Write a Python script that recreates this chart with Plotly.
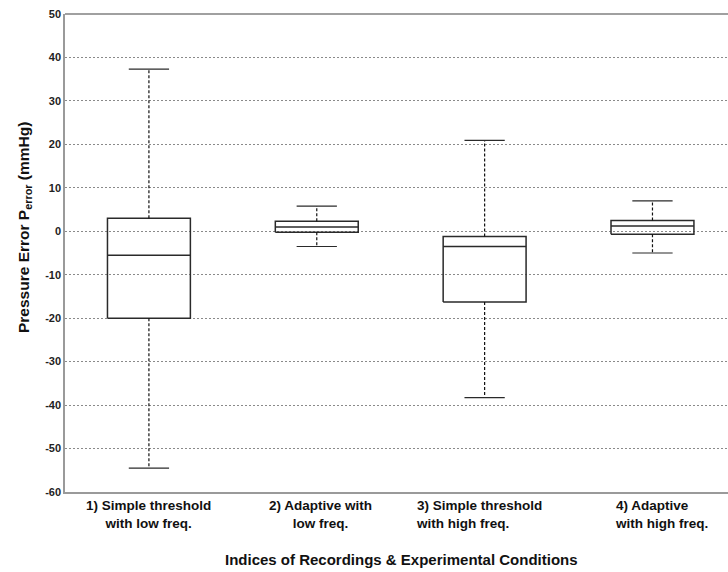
import plotly.graph_objects as go

categories = ["1) Simple threshold<br>with low freq.",
              "2) Adaptive with<br>low freq.",
              "3) Simple threshold<br>with high freq.",
              "4) Adaptive<br>with high freq."]
upper_whisker = [37.3, 5.8, 20.9, 7.0]
q3 = [3.0, 2.3, -1.2, 2.5]
median = [-5.5, 1.0, -3.5, 1.2]
q1 = [-20.0, -0.2, -16.3, -0.7]
lower_whisker = [-54.5, -3.5, -38.3, -5.0]
y_ticks = list(range(-60, 51, 10))

FONT = "Liberation Sans, Arial, sans-serif"
BW = 0.247   # box half width (axis units)
CW = 0.12    # cap half width
BOX_COLOR = "#2a2a2a"

fig = go.Figure()
for i in range(len(categories)):
    fig.add_trace(go.Scatter(
        x=[i - BW, i + BW, i + BW, i - BW, i - BW],
        y=[q1[i], q1[i], q3[i], q3[i], q1[i]],
        mode="lines", line=dict(color=BOX_COLOR, width=1.5),
        hoverinfo="skip", showlegend=False))
    fig.add_trace(go.Scatter(
        x=[i - BW, i + BW], y=[median[i], median[i]],
        mode="lines", line=dict(color=BOX_COLOR, width=1.5),
        hoverinfo="skip", showlegend=False))
    fig.add_trace(go.Scatter(
        x=[i, i, None, i, i],
        y=[q3[i], upper_whisker[i], None, q1[i], lower_whisker[i]],
        mode="lines", line=dict(color="#111111", width=1.2, dash="3px,2px"),
        hoverinfo="skip", showlegend=False))
    fig.add_trace(go.Scatter(
        x=[i - CW, i + CW, None, i - CW, i + CW],
        y=[upper_whisker[i], upper_whisker[i], None, lower_whisker[i], lower_whisker[i]],
        mode="lines", line=dict(color=BOX_COLOR, width=1.2),
        hoverinfo="skip", showlegend=False))

aligns = ["center", "center", "left", "left"]
xshift = [0, 4, -71, -39]
for i, lab in enumerate(categories):
    fig.add_annotation(
        x=i, xref="x", y=0, yref="paper", yanchor="top", yshift=-4,
        xanchor="center" if aligns[i] == "center" else "left",
        xshift=xshift[i], align=aligns[i], showarrow=False,
        text="<b>" + lab + "</b>",
        font=dict(family=FONT, size=13.5, color="#111111"))

# axis titles
fig.add_annotation(
    x=0.5, xref="paper", y=0, yref="paper", yanchor="middle", yshift=-67,
    xanchor="center", xshift=5, showarrow=False,
    text="<b>Indices of Recordings & Experimental Conditions</b>",
    font=dict(family=FONT, size=15, color="#111111"))
fig.add_annotation(
    x=0, xref="paper", y=(492 - 228) / 478, yref="paper", yanchor="middle",
    xanchor="center", xshift=-41, textangle=-90, showarrow=False,
    text="<b>Pressure Error P<sub>error</sub> (mmHg)</b>",
    font=dict(family=FONT, size=15.5, color="#111111"))

fig.update_layout(
    width=728, height=572,
    margin=dict(l=65, r=0, t=14, b=80, autoexpand=False),
    paper_bgcolor="white", plot_bgcolor="white",
    font=dict(family=FONT, color="#222222"),
    xaxis=dict(range=[-0.5, 3.45], showticklabels=False, showgrid=False,
               zeroline=False, showline=True, linecolor="#9a9a9a", linewidth=1.5,
               mirror=False, ticks="", automargin=False),
    yaxis=dict(range=[-60, 50], tickvals=y_ticks, ticktext=[str(v) for v in y_ticks],
               tickfont=dict(family=FONT, size=11, color="#222222", weight="bold"),
               showgrid=True, gridcolor="#8a8a8a", gridwidth=1, griddash="2px,2px",
               zeroline=False, showline=True, linecolor="#9a9a9a", linewidth=1.5,
               ticks="", ticklen=0, automargin=False),
)
fig.add_shape(type="line", xref="paper", yref="paper", x0=0, x1=1, y0=1, y1=1,
              line=dict(color="#a0a0a0", width=2))

fig.write_html("out.html", config={"displayModeBar": False},
               post_script="document.body.style.margin='0';document.body.style.padding='0';")
